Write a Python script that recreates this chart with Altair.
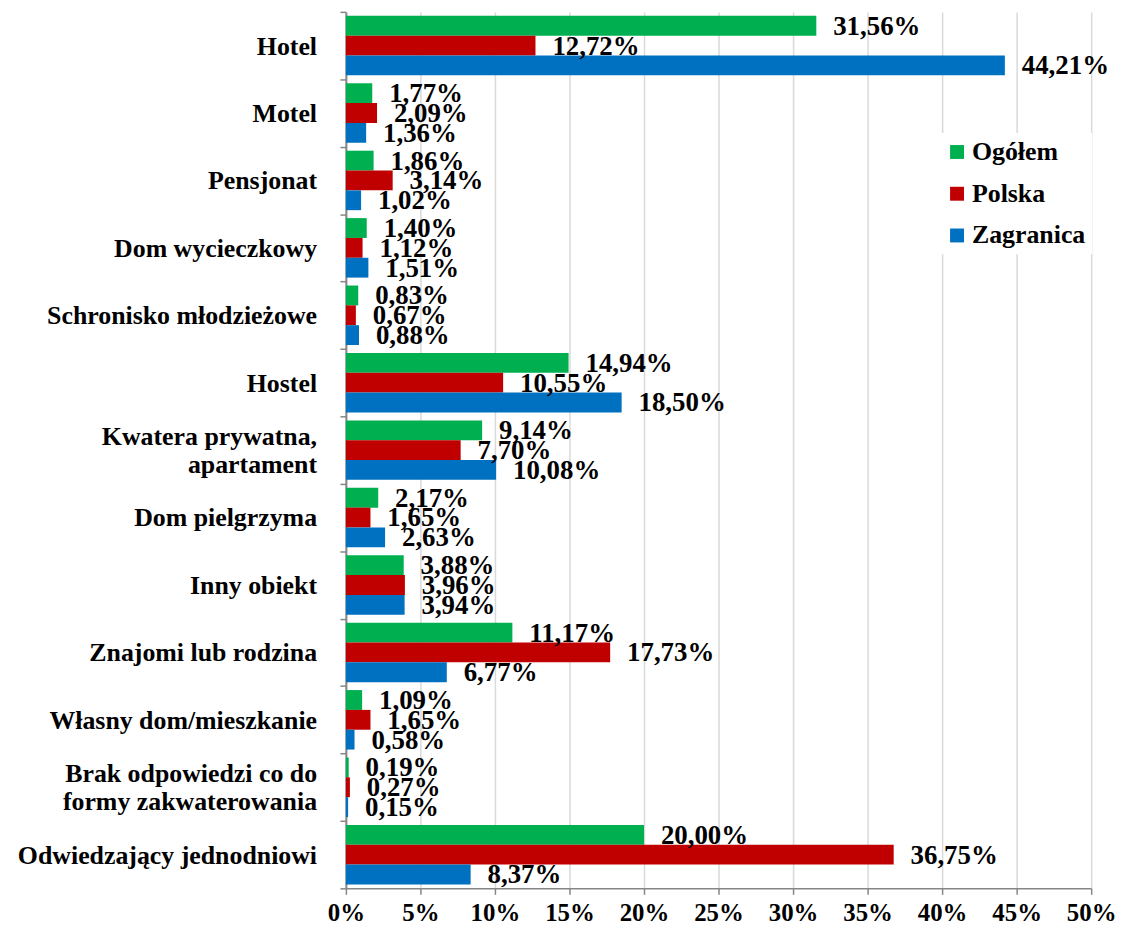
import altair as alt
import pandas as pd

categories = [
    "Hotel", "Motel", "Pensjonat", "Dom wycieczkowy", "Schronisko młodzieżowe",
    "Hostel", "Kwatera prywatna, apartament", "Dom pielgrzyma", "Inny obiekt",
    "Znajomi lub rodzina", "Własny dom/mieszkanie",
    "Brak odpowiedzi co do formy zakwaterowania", "Odwiedzający jednodniowi",
]
label_line1 = [
    "Hotel", "Motel", "Pensjonat", "Dom wycieczkowy", "Schronisko młodzieżowe",
    "Hostel\u00a0", "Kwatera prywatna,", "Dom pielgrzyma", "Inny obiekt",
    "Znajomi lub rodzina", "Własny dom/mieszkanie\u00a0",
    "Brak odpowiedzi co do", "Odwiedzający jednodniowi",
]
label_line2 = ["", "", "", "", "", "", "apartament", "", "", "", "",
               "formy zakwaterowania", ""]
series = ["Ogółem", "Polska", "Zagranica"]
ogolem = [31.56, 1.77, 1.86, 1.40, 0.83, 14.94, 9.14, 2.17, 3.88, 11.17, 1.09, 0.19, 20.00]
polska = [12.72, 2.09, 3.14, 1.12, 0.67, 10.55, 7.70, 1.65, 3.96, 17.73, 1.65, 0.27, 36.75]
zagranica = [44.21, 1.36, 1.02, 1.51, 0.88, 18.50, 10.08, 2.63, 3.94, 6.77, 0.58, 0.15, 8.37]
colors = ["#00B050", "#C00000", "#0070C0"]

rows = []
for s, vals in zip(series, [ogolem, polska, zagranica]):
    for c, v in zip(categories, vals):
        rows.append({"cat": c, "series": s, "value": v / 100,
                     "label": f"{v:.2f}".replace(".", ",") + "%"})
df = pd.DataFrame(rows)

singles = pd.DataFrame([{"cat": c, "t": a} for c, a, b in zip(categories, label_line1, label_line2) if not b])
firsts = pd.DataFrame([{"cat": c, "t": a} for c, a, b in zip(categories, label_line1, label_line2) if b])
seconds = pd.DataFrame([{"cat": c, "t": b} for c, a, b in zip(categories, label_line1, label_line2) if b])

FONT = "Liberation Serif"

y_enc = alt.Y("cat:N", sort=categories, title=None,
              scale=alt.Scale(paddingInner=0, paddingOuter=0, round=False),
              axis=alt.Axis(labels=False, tickBand="extent", tickColor="#868686", tickSize=6,
                            tickWidth=1.5, domainColor="#868686", domainWidth=2, grid=False))
yoff = alt.YOffset("series:N", sort=series,
                   scale=alt.Scale(paddingInner=0, paddingOuter=0.2, round=False))
x_enc = alt.X("value:Q", title=None,
              scale=alt.Scale(domain=[0, 0.5], nice=False),
              axis=alt.Axis(format=".0%", values=[i * 0.05 for i in range(11)],
                            labelFont=FONT, labelFontWeight="bold", labelFontSize=25,
                            labelColor="black", labelPadding=6, labelFlush=False,
                            labelOverlap=False, tickWidth=1.5,
                            tickColor="#868686", tickSize=6, domainColor="#868686",
                            domainWidth=1.5, gridColor="#d9d9d9", gridWidth=1.5))

bars = alt.Chart(df).mark_bar().encode(
    y=y_enc, yOffset=yoff, x=x_enc,
    color=alt.Color("series:N", sort=series,
                    scale=alt.Scale(domain=series, range=colors),
                    legend=alt.Legend(title=None, orient="none", legendX=596, legendY=122,
                                      symbolType="square", symbolSize=196,
                                      symbolStrokeWidth=0, labelFont=FONT,
                                      labelFontWeight="bold", labelFontSize=26,
                                      labelColor="black", rowPadding=16, labelOffset=2,
                                      fillColor="white", padding=6)),
)
text = alt.Chart(df).mark_text(align="left", baseline="middle", dx=17, dy=1,
                               font=FONT, fontWeight="bold", fontSize=27,
                               color="black").encode(
    y=alt.Y("cat:N", sort=categories), yOffset=alt.YOffset("series:N", sort=series),
    x="value:Q", text="label:N")


def ylab(data, dy):
    return alt.Chart(data).mark_text(align="right", baseline="middle", dy=dy,
                                     font=FONT, fontWeight="bold", fontSize=26,
                                     color="black").encode(
        y=alt.Y("cat:N", sort=categories), x=alt.value(-29), text="t:N")


chart = (bars + text + ylab(singles, 1) + ylab(firsts, -13) + ylab(seconds, 15)).properties(
    width=750, height=882,
    autosize=alt.AutoSizeParams(type="none"),
    padding={"left": 340, "top": 1, "right": 30, "bottom": 40},
).configure_view(stroke=None)

chart.save("out.html", embed_options={"renderer": "svg", "actions": False})
